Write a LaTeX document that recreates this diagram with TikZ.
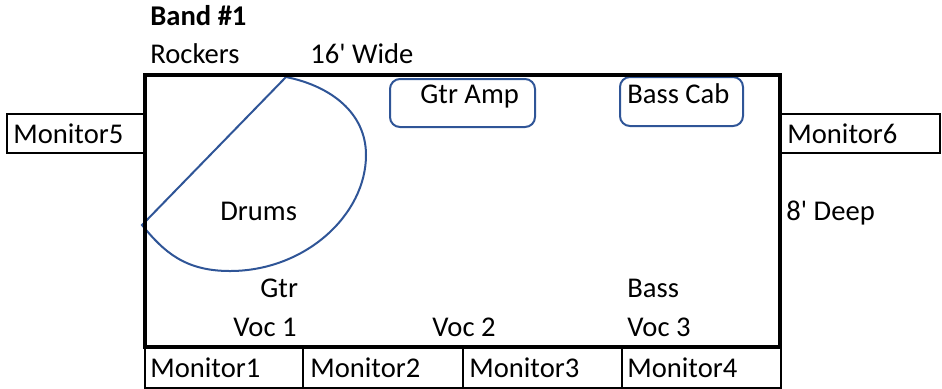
\documentclass[tikz,border=0pt]{standalone}
\usepackage{fontspec}
\setmainfont{Carlito}
\usetikzlibrary{positioning}
\definecolor{shapeblue}{HTML}{2F5597}
\tikzset{
x=0.5pt, y=-0.5pt, % one unit is one pixel of the plot
lbl/.style={anchor=base west, inner sep=0pt, font=\fontsize{14.3}{17}\selectfont},
stage/.style={draw=black, line width=2.2pt},
cell/.style={draw=black, line width=1pt},
gear/.style={draw=shapeblue, line width=1pt, rounded corners=5pt},
}
\begin{document}
\begin{tikzpicture}
        \useasboundingbox (0,0) rectangle (942,388);

        % monitor cells
        \draw[cell] (7,114) rectangle (145,153);
        \draw[cell] (780,114) rectangle (940,153);
        \draw[cell] (145,347) rectangle (303,388);
        \draw[cell] (303,347) rectangle (463,388);
        \draw[cell] (463,347) rectangle (622,388);
        \draw[cell] (622,347) rectangle (781,388);

        % drum riser
        \draw[gear, rounded corners=0pt] (286,77)
          .. controls (331,86) and (366,113) .. (366,155)
          .. controls (366,215) and (305,271) .. (230,271)
          .. controls (185,271) and (164,252) .. (142,225) -- cycle;

        % amps
        \draw[gear] (390,79) rectangle (535,127);
        \draw[gear] (620,77) rectangle (743,126);

        % stage
        \draw[stage] (145,75) rectangle (780,347);

        \node[lbl, font=\fontsize{14.3}{17}\selectfont\bfseries] (band) at (150,25) {Band \#1};
        \node[lbl] (rockers) at (150,63) {Rockers};
        \node[lbl] (wide) at (310,63) {16\textquotesingle{} Wide};
        \node[lbl] (deep) at (786,220) {8\textquotesingle{} Deep};

        \node[lbl] (gtramp) at (420,103) {Gtr Amp};
        \node[lbl] (basscab) at (627,103) {Bass Cab};
        \node[lbl] (drums) at (220,220) {Drums};

        \node[lbl] (gtr) at (260,297) {Gtr};
        \node[lbl] (bass) at (627,297) {Bass};
        \node[lbl] (voc1) at (233,336) {Voc 1};
        \node[lbl] (voc2) at (432,336) {Voc 2};
        \node[lbl] (voc3) at (627,336) {Voc 3};

        \node[lbl] (mon5) at (13,143) {Monitor5};
        \node[lbl] (mon6) at (787,143) {Monitor6};
        \node[lbl] (mon1) at (150,377) {Monitor1};
        \node[lbl] (mon2) at (310,377) {Monitor2};
        \node[lbl] (mon3) at (469,377) {Monitor3};
        \node[lbl] (mon4) at (627,377) {Monitor4};
      \end{tikzpicture}
\end{document}
